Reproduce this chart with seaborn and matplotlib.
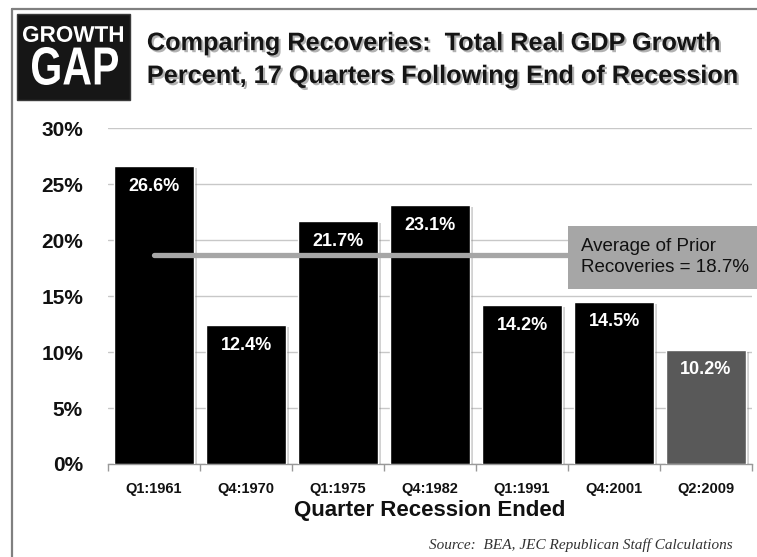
import matplotlib
matplotlib.use("Agg")
import matplotlib.pyplot as plt
import matplotlib.patheffects as pe
from matplotlib.patches import Rectangle, PathPatch
from matplotlib.lines import Line2D
from matplotlib.textpath import TextPath
from matplotlib.font_manager import FontProperties
from matplotlib.transforms import Affine2D
from matplotlib.ticker import FixedLocator, FuncFormatter
import seaborn as sns
import pandas as pd

# Total real GDP growth in the 17 quarters after each recession ended (%)
quarters = ["Q1:1961", "Q4:1970", "Q1:1975", "Q4:1982", "Q1:1991", "Q4:2001", "Q2:2009"]
growth = [26.6, 12.4, 21.7, 23.1, 14.2, 14.5, 10.2]
prior_average = 18.7
y_ticks = [0, 5, 10, 15, 20, 25, 30]

bar_colors = ["#000000"] * 6 + ["#595959"]

sns.set_theme(style="white")
plt.rcParams["font.family"] = ["Liberation Sans", "DejaVu Sans"]

df = pd.DataFrame({"quarter": quarters, "growth": growth})

W, H = 757, 557
fig = plt.figure(figsize=(W / 100, H / 100), dpi=100)
fig.patch.set_facecolor("white")
ax = fig.add_axes([0.1427, 0.167, 0.8507, 0.603])

sns.barplot(data=df, x="quarter", y="growth", hue="quarter",
            palette=bar_colors, legend=False, width=0.86,
            saturation=1, ax=ax, zorder=3)

shadow = [pe.SimplePatchShadow(offset=(2.5, -1.5), shadow_rgbFace="#808080", alpha=0.35),
          pe.Normal()]
for patch in ax.patches:
    patch.set_path_effects(shadow)

# value labels inside the bars
for i, v in enumerate(growth):
    ax.annotate(f"{v:.1f}%", xy=(i, v), xytext=(0, -14.5),
                textcoords="offset points", ha="center", va="center",
                color="white", fontsize=13, fontweight="bold", zorder=5)

# average of prior recoveries
ax.plot([0, 4.5], [prior_average, prior_average], color="#a6a6a6",
        lw=3.8, solid_capstyle="round", zorder=4)
ax.annotate(f"Average of Prior\nRecoveries = {prior_average}%",
            xy=(4.5, prior_average), xytext=(9.5, -2), textcoords="offset points",
            ha="left", va="center", fontsize=13.5, color="#111111",
            linespacing=1.3, annotation_clip=False, zorder=6,
            bbox=dict(boxstyle="square,pad=0.68", fc="#a6a6a6", ec="none"))

ax.set_ylim(0, 30)
ax.set_xlim(-0.5, len(quarters) - 0.5)
ax.yaxis.set_major_locator(FixedLocator(y_ticks))
ax.yaxis.set_major_formatter(FuncFormatter(lambda v, _: f"{v:.0f}%"))
ax.grid(axis="y", color="#c8c8c8", lw=1)
ax.grid(axis="x", visible=False)
ax.set_axisbelow(True)

for s in ["top", "right", "left"]:
    ax.spines[s].set_visible(False)
ax.spines["bottom"].set_color("#999999")
ax.spines["bottom"].set_linewidth(1)

ax.xaxis.set_minor_locator(FixedLocator([k - 0.5 for k in range(len(quarters) + 1)]))
ax.tick_params(axis="x", which="minor", length=5, color="#999999", width=1, bottom=True)
ax.tick_params(axis="x", which="major", length=0, pad=13, labelsize=10.5)
ax.tick_params(axis="y", length=0, pad=18, labelsize=15)
for lbl in ax.get_xticklabels() + ax.get_yticklabels():
    lbl.set_fontweight("bold")
    lbl.set_color("#111111")

ax.set_ylabel("")
ax.set_xlabel("Quarter Recession Ended", fontsize=16, fontweight="bold",
              color="#111111", labelpad=3)

# page frame
fig.add_artist(Line2D([0.0159, 1.0], [0.983, 0.983], color="#808080", lw=1.6))
fig.add_artist(Line2D([0.0159, 0.0159], [0.0, 0.983], color="#808080", lw=1.6))

# logo block
fig.add_artist(Rectangle((17 / W, 1 - 100 / H), 113 / W, 86 / H, transform=fig.transFigure,
                         facecolor="#161616", edgecolor="#3a3a3a", lw=1))
logo_font = FontProperties(family="Liberation Sans", weight="bold")


def logo_word(word, left, top, right, bottom):
    """Draw a word stretched to fill a pixel box (measured from the top-left)."""
    tp = TextPath((0, 0), word, size=1, prop=logo_font)
    ext = tp.get_extents()
    tr = (Affine2D()
          .translate(-ext.x0, -ext.y0)
          .scale((right - left) / ext.width / W, (bottom - top) / ext.height / H)
          .translate(left / W, 1 - bottom / H)
          + fig.transFigure)
    fig.add_artist(PathPatch(tp, transform=tr, facecolor="white", edgecolor="none"))


logo_word("GROWTH", 23, 26, 123, 42)
logo_word("GAP", 32, 47, 118, 85)

# title
title_fx = [pe.withSimplePatchShadow(offset=(1.5, -1.5), shadow_rgbFace="#555555", alpha=0.45)]
fig.text(0.194, 0.910, "Comparing Recoveries:  Total Real GDP Growth",
         ha="left", va="baseline", fontsize=18.2, fontweight="bold",
         color="#151515", path_effects=title_fx)
fig.text(0.194, 0.851, "Percent, 17 Quarters Following End of Recession",
         ha="left", va="baseline", fontsize=18.2, fontweight="bold",
         color="#151515", path_effects=title_fx)

# source note
fig.text(0.968, 0.0215, "Source:  BEA, JEC Republican Staff Calculations",
         ha="right", va="center", fontsize=11, style="italic", color="#333333",
         family=["Liberation Serif", "DejaVu Serif"])

fig.savefig("out.png", dpi=100, facecolor="white")
